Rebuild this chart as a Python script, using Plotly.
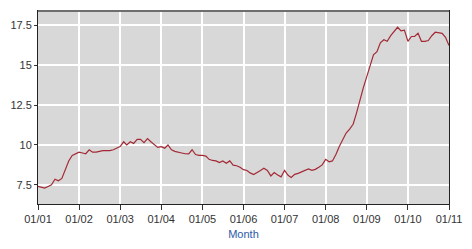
import plotly.graph_objects as go
import pandas as pd

months = pd.date_range("2001-01-01", "2011-01-01", freq="MS")

v2001 = [7.40, 7.35, 7.30, 7.40, 7.50, 7.85, 7.75, 7.90, 8.40, 9.00, 9.35, 9.45]
v2002 = [9.55, 9.50, 9.45, 9.70, 9.55, 9.55, 9.60, 9.65, 9.65, 9.65, 9.70, 9.80]
v2003 = [9.90, 10.20, 10.00, 10.20, 10.10, 10.35, 10.35, 10.15, 10.40, 10.20, 10.00, 9.85]
v2004 = [9.90, 9.80, 10.00, 9.70, 9.60, 9.57, 9.50, 9.45, 9.44, 9.70, 9.40, 9.35]
v2005 = [9.35, 9.30, 9.10, 9.03, 9.00, 8.90, 9.00, 8.85, 9.00, 8.74, 8.70, 8.60]
v2006 = [8.45, 8.40, 8.25, 8.15, 8.30, 8.40, 8.54, 8.40, 8.06, 8.27, 8.12, 8.00]
v2007 = [8.41, 8.10, 7.96, 8.16, 8.22, 8.30, 8.40, 8.50, 8.41, 8.47, 8.60, 8.75]
v2008 = [9.10, 8.95, 9.00, 9.40, 9.90, 10.35, 10.75, 11.00, 11.30, 12.00, 12.85, 13.60]
v2009 = [14.30, 15.10, 15.65, 15.85, 16.40, 16.60, 16.50, 16.85, 17.10, 17.38, 17.15, 17.20]
v2010 = [16.50, 16.80, 16.80, 17.00, 16.50, 16.50, 16.55, 16.85, 17.07, 17.05, 17.00, 16.75]
v2011 = [16.24]

values = v2001 + v2002 + v2003 + v2004 + v2005 + v2006 + v2007 + v2008 + v2009 + v2010 + v2011

y_ticks = [7.5, 10, 12.5, 15, 17.5]
y_tick_text = ["7.5", "10", "12.5", "15", "17.5"]

fig = go.Figure()
fig.add_trace(go.Scatter(x=months, y=values, mode="lines",
                         line=dict(color="#a32a35", width=1.2),
                         hoverinfo="skip", showlegend=False))

font = dict(family="Liberation Sans, Arial, sans-serif", size=11, color="#333333")

fig.update_layout(
    width=472, height=249,
    margin=dict(l=38, r=23, t=10, b=44),
    paper_bgcolor="white",
    plot_bgcolor="#d8d8d8",
    font=font,
    xaxis=dict(
        type="date",
        range=["2001-01-01", "2011-01-01"],
        tick0="2001-01-01", dtick="M12",
        tickformat="%m/%y",
        showgrid=True, gridcolor="white", gridwidth=1.6,
        ticks="outside", ticklen=5, tickcolor="#333333", tickwidth=1,
        showline=True, linecolor="#222222", linewidth=1, mirror=True,
        zeroline=False,
        title=dict(text="Month", font=dict(family="Liberation Sans, Arial, sans-serif",
                                            size=11, color="#2a5aa8"), standoff=6),
        tickfont=font,
    ),
    yaxis=dict(
        range=[6.3, 18.4],
        tickvals=y_ticks, ticktext=y_tick_text,
        showgrid=True, gridcolor="white", gridwidth=1.6,
        ticks="outside", ticklen=3, tickcolor="#333333", tickwidth=1,
        showline=True, linecolor="#222222", linewidth=1, mirror=True,
        zeroline=False,
        tickfont=font,
    ),
    shapes=[dict(type="line", xref="paper", yref="paper", x0=0, x1=1, y0=1, y1=1,
                 line=dict(color="#6e6e6e", width=2))],
)

fig.write_html("out.html")
